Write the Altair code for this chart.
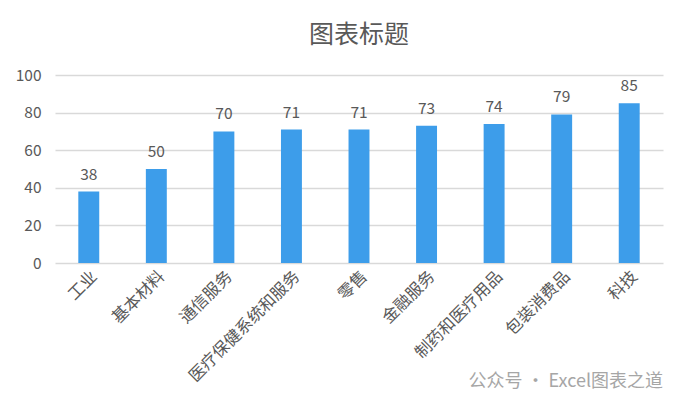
import altair as alt
import pandas as pd

categories = ["工业", "基本材料", "通信服务", "医疗保健系统和服务", "零售", "金融服务", "制药和医疗用品", "包装消费品", "科技"]
values = [38, 50, 70, 71, 71, 73, 74, 79, 85]
y_ticks = [0, 20, 40, 60, 80, 100]

df = pd.DataFrame({"cat": categories, "val": values})
FONT = "Noto Sans CJK SC"
GRAY = "#595959"

base = alt.Chart(df).encode(
    x=alt.X("cat:N", sort=categories, title=None,
            scale=alt.Scale(paddingInner=0.69, paddingOuter=0.345),
            axis=alt.Axis(labelAngle=-45, labelFontSize=16.5, labelColor=GRAY, labelFont=FONT,
                          domain=False, ticks=False, grid=False, labelPadding=5, labelLimit=300)),
    y=alt.Y("val:Q", title=None, scale=alt.Scale(domain=[0, 100], nice=False),
            axis=alt.Axis(values=y_ticks, labelFontSize=15.5, labelColor=GRAY, labelFont=FONT,
                          domain=False, ticks=False, labelPadding=14, gridColor="#D9D9D9", gridWidth=1.3)),
)

bars = base.mark_bar(color="#3D9DEA")
labels = base.mark_text(dy=-17, fontSize=15.5, color=GRAY, font=FONT).encode(text="val:Q")

wm = alt.Chart(pd.DataFrame({"t": ["公众号 · Excel图表之道"]})).mark_text(
    align="right", baseline="middle", fontSize=18, color="#A6A6A6", font=FONT
).encode(text="t:N", x=alt.value(608), y=alt.value(307))

chart = alt.layer(bars, labels, wm).properties(
    width=608, height=188,
    title=alt.TitleParams("图表标题", fontSize=25, color=GRAY, font=FONT, fontWeight="normal", offset=20),
    autosize=alt.AutoSizeParams(type="none"),
    padding={"left": 47, "top": 67, "right": 14, "bottom": 141},
    background="white",
).configure_view(stroke=None, strokeWidth=0)

chart.save("out.html", embed_options={"renderer": "svg", "actions": False})
